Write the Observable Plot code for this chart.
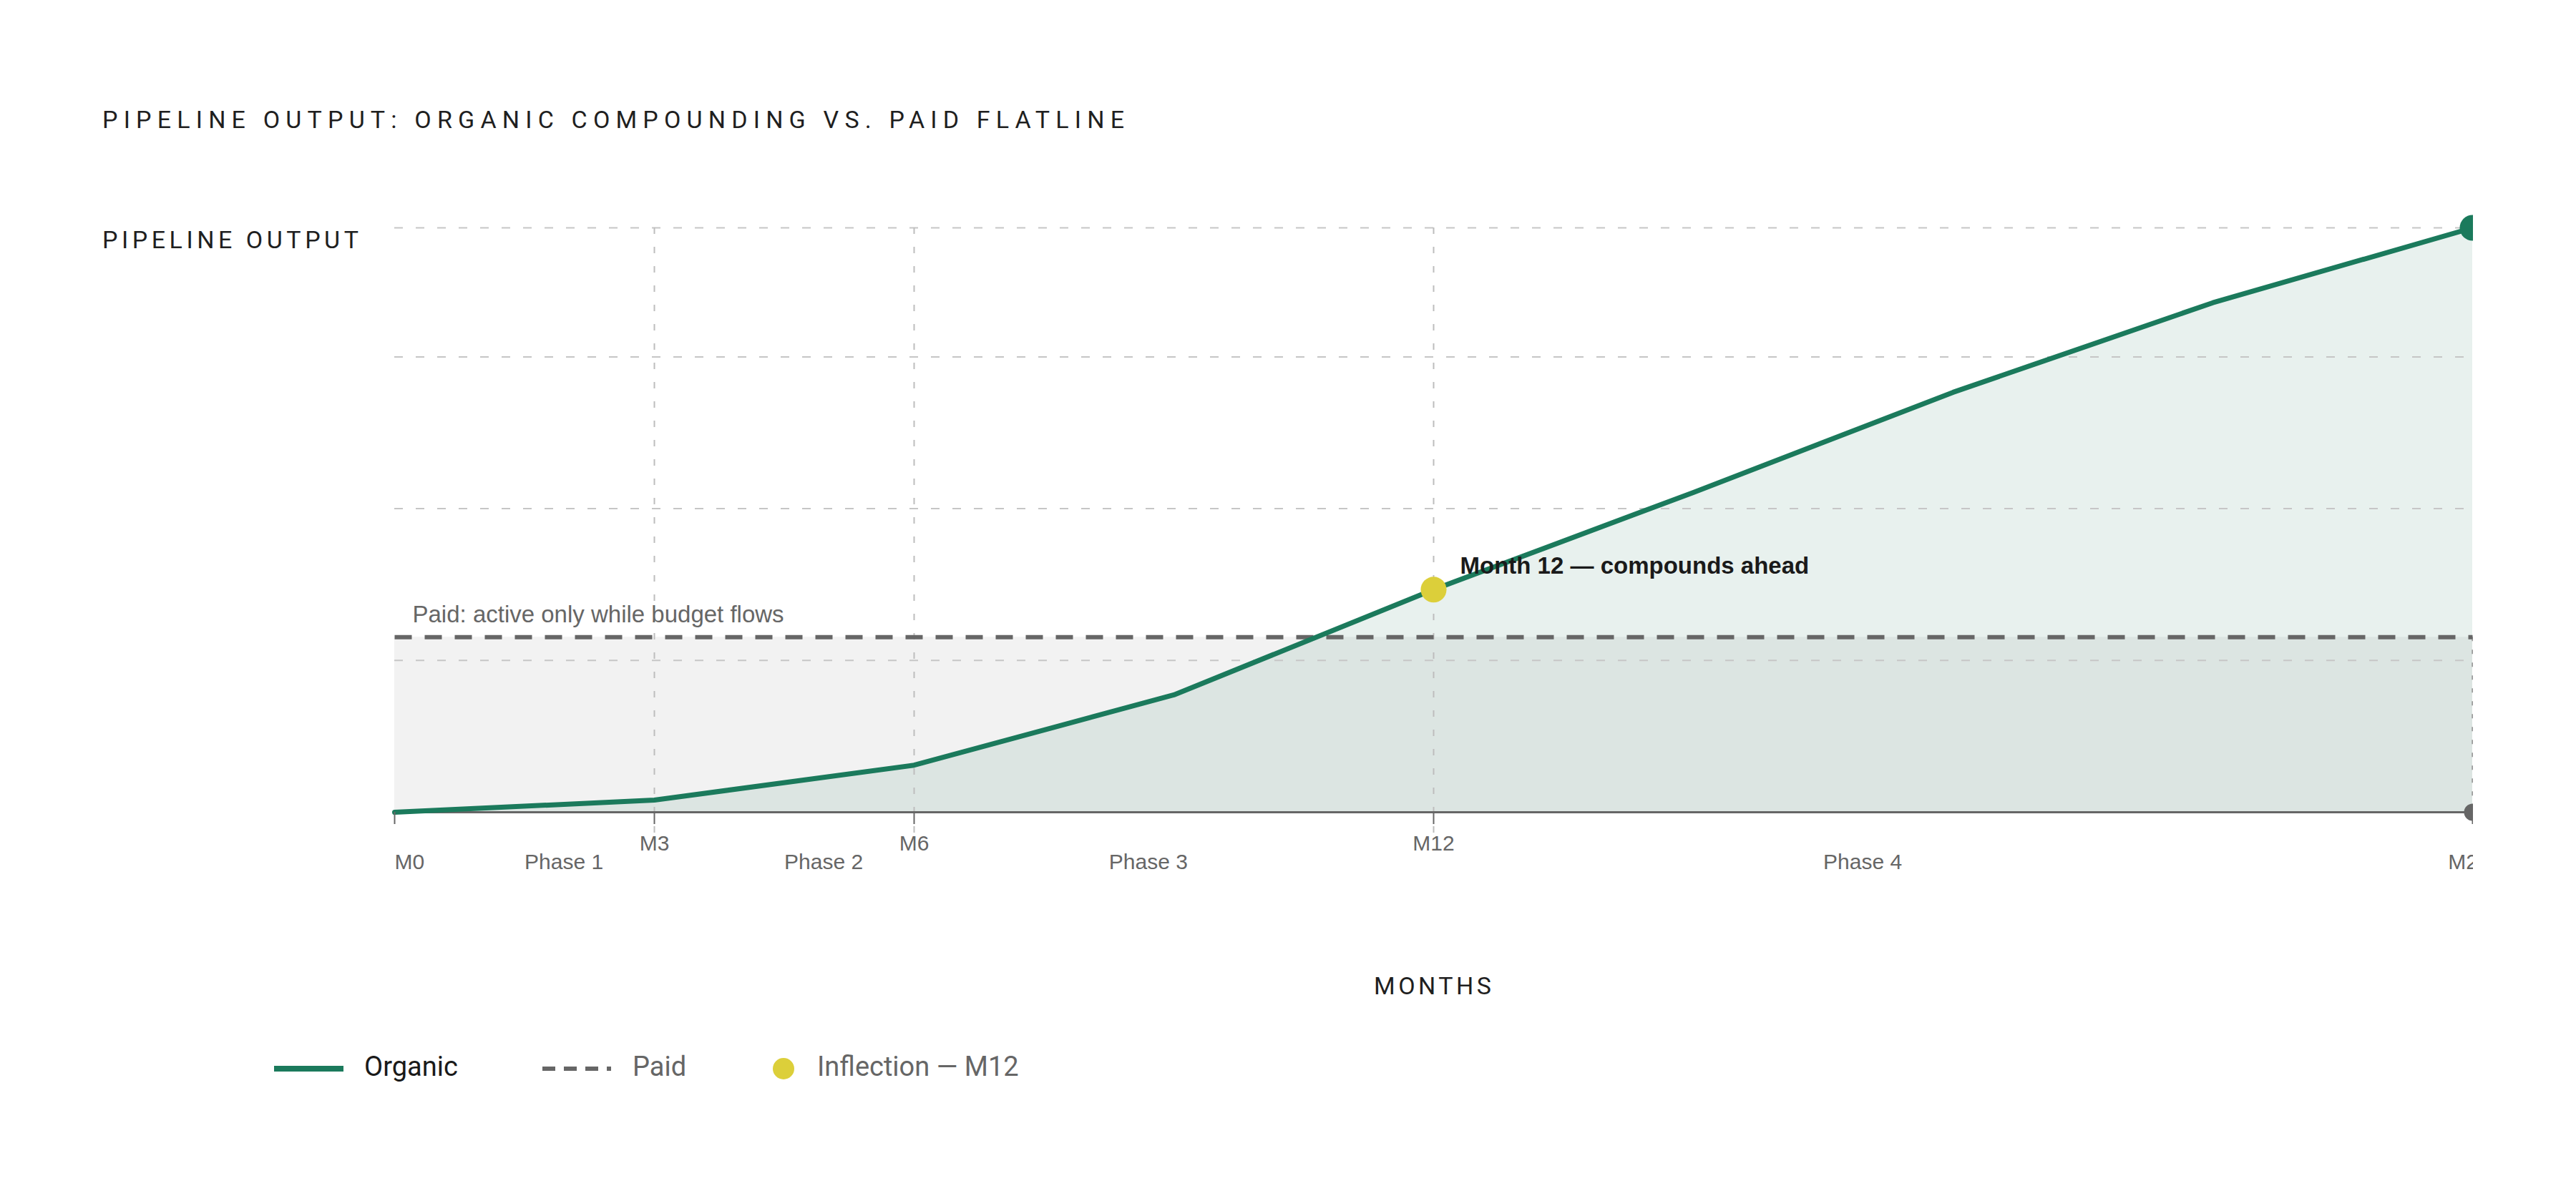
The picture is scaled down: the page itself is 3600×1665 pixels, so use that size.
<!DOCTYPE html>
<html>
<head>
<meta charset="utf-8">
<script src="https://cdn.jsdelivr.net/npm/d3@7"></script>
<script src="https://cdn.jsdelivr.net/npm/@observablehq/plot@0.6"></script>
<style>
  html, body { margin: 0; padding: 0; background: #fff; }
  #page { position: relative; width: 3600px; height: 1665px; overflow: hidden; background: #fff; }
  .lbl { position: absolute; white-space: nowrap; font-family: Roboto, "Noto Sans", sans-serif; line-height: 1; }
  #chart { position: absolute; left: 0; top: 200px; }
</style>
</head>
<body>
<div id="page">
  <div id="chart"></div>
</div>
<script>
// ---------------- data ----------------
const months       = [0, 3, 6, 9, 12, 15, 18, 21, 24];
const organic      = [0, 2.4, 9.3, 23.2, 44.0, 63.2, 83.0, 100.7, 115.5];
const paidMonths   = [0, 24];
const paid         = [34.6, 34.6];
const yGridValues  = [30, 60, 90, 115.5];
const xGridMonths  = [3, 6, 12];
const xTickMonths  = [0, 3, 6, 12, 24];
const xTickLabels  = ["", "M3", "M6", "M12", ""];
const rowLabelX    = [0, 1.5, 4.5, 8.25, 16.5];
const rowLabels    = ["M0", "Phase 1", "Phase 2", "Phase 3", "Phase 4"];
const endLabelX    = [24];
const endLabels    = ["M24"];
const inflectionMonth = 12;
const inflectionValue = 44.0;
const paidNote = "Paid: active only while budget flows";
const inflectionNote = "Month 12 \u2014 compounds ahead";
const titleText = "PIPELINE OUTPUT: ORGANIC COMPOUNDING VS. PAID FLATLINE";
const yLabelText = "PIPELINE OUTPUT";
const xLabelText = "MONTHS";
const legendLabels = ["Organic", "Paid", "Inflection \u2014 M12"];

// ---------------- colors ----------------
const GREEN = "#1b7a5c";
const GRAY = "#666666";
const YELLOW = "#dccf3a";

const orgData = months.map((m, i) => ({x: m, y: organic[i]}));
const paidData = paidMonths.map((m, i) => ({x: m, y: paid[i]}));
const tickLabelMap = new Map(xTickMonths.map((m, i) => [m, xTickLabels[i]]));
const lastIdx = months.length - 1;

const plot = Plot.plot({
  width: 3456,
  height: 1035,
  marginLeft: 551,
  marginRight: 1,
  marginTop: 118,
  marginBottom: 100,
  style: {
    background: "transparent",
    overflow: "hidden",
    fontFamily: "'Liberation Sans', Arial, sans-serif",
    fontSize: "30px"
  },
  x: {domain: [0, 24]},
  y: {domain: [0, organic[lastIdx]], axis: null},
  marks: [
    Plot.areaY(paidData, {x: "x", y: "y", fill: "#f2f2f2"}),
    Plot.areaY(orgData, {x: "x", y: "y", fill: GREEN, fillOpacity: 0.1}),
    Plot.ruleY(yGridValues, {stroke: "#c6c6c6", strokeWidth: 2, strokeDasharray: "12 18"}),
    Plot.ruleX(xGridMonths, {stroke: "#bdbdbd", strokeWidth: 2, strokeDasharray: "9 18", insetBottom: -30}),
    Plot.ruleX([paidMonths[paidMonths.length - 1]], {y1: paid[paid.length - 1], y2: 0, stroke: "#9a9a9a", strokeWidth: 2.5, strokeDasharray: "6 12"}),
    Plot.ruleY([0], {stroke: GRAY, strokeWidth: 3}),
    Plot.lineY(paidData, {x: "x", y: "y", stroke: GRAY, strokeWidth: 6, strokeDasharray: "24 18", strokeLinecap: "butt"}),
    Plot.lineY(orgData, {x: "x", y: "y", stroke: GREEN, strokeWidth: 7}),
    Plot.axisX({
      ticks: xTickMonths,
      tickSize: 17,
      tickPadding: 15,
      tickFormat: d => tickLabelMap.get(d) ?? "",
      color: GRAY,
      strokeWidth: 2,
      fontSize: 30,
      label: null
    }),
    Plot.dot([orgData[lastIdx]], {x: "x", y: "y", r: 18, fill: GREEN}),
    Plot.dot([{x: paidMonths[paidMonths.length - 1], y: 0}], {x: "x", y: "y", r: 12, fill: GRAY}),
    Plot.dot([{x: inflectionMonth, y: inflectionValue}], {x: "x", y: "y", r: 18, fill: YELLOW}),
    Plot.text([paidNote], {x: paidMonths[0], y: paid[0], text: d => d, dx: 25, dy: -21,
      textAnchor: "start", lineAnchor: "bottom", fill: GRAY, fontSize: 33}),
    Plot.text([inflectionNote], {x: inflectionMonth, y: inflectionValue, text: d => d, dx: 37, dy: -22,
      textAnchor: "start", lineAnchor: "bottom", fill: "#1a1a1a", fontSize: 33, fontWeight: "bold"}),
    Plot.text(rowLabels, {x: (d, i) => rowLabelX[i], text: d => d, frameAnchor: "bottom", dy: 79,
      lineAnchor: "bottom", textAnchor: "start", fill: GRAY, fontSize: 30}),
    Plot.text(endLabels, {x: (d, i) => endLabelX[i], text: d => d, frameAnchor: "bottom", dy: 79, dx: -5,
      lineAnchor: "bottom", textAnchor: "middle", fill: GRAY, fontSize: 30})
  ]
});
document.getElementById("chart").appendChild(plot);

// ---------------- HTML text: title, axis labels, legend ----------------
const page = document.getElementById("page");
function addLabel(text, opts) {
  const el = document.createElement("div");
  el.className = "lbl";
  el.textContent = text;
  el.style.fontSize = opts.size + "px";
  el.style.color = opts.color;
  el.style.top = (opts.baseline - 0.842 * opts.size) + "px";
  page.appendChild(el);
  if (opts.fitWidth) {
    el.style.letterSpacing = "0px";
    const w0 = el.getBoundingClientRect().width;
    const ls = (opts.fitWidth - w0) / (text.length - 1);
    el.style.letterSpacing = ls + "px";
    el.dataset.ls = ls;
  }
  const w = el.getBoundingClientRect().width - (parseFloat(el.dataset.ls || 0));
  if (opts.center != null) el.style.left = (opts.center - w / 2) + "px";
  else el.style.left = opts.left + "px";
  return el;
}
addLabel(titleText, {size: 34, color: "#1f1f1f", baseline: 179, left: 143, fitWidth: 1428});
addLabel(yLabelText, {size: 34, color: "#1f1f1f", baseline: 347, left: 143, fitWidth: 358});
addLabel(xLabelText, {size: 34, color: "#1f1f1f", baseline: 1390, center: 2002, fitWidth: 164});

// legend
function addBox(css) {
  const d = document.createElement("div");
  d.style.position = "absolute";
  Object.assign(d.style, css);
  page.appendChild(d);
  return d;
}
addBox({left: "383px", top: "1490px", width: "97px", height: "8px", background: GREEN});
const dash = document.createElementNS("http://www.w3.org/2000/svg", "svg");
dash.setAttribute("width", "96"); dash.setAttribute("height", "10");
dash.style.position = "absolute"; dash.style.left = "758px"; dash.style.top = "1489px";
dash.innerHTML = `<line x1="0" y1="5" x2="96" y2="5" stroke="${GRAY}" stroke-width="6" stroke-dasharray="18 12"/>`;
page.appendChild(dash);
addBox({left: "1080px", top: "1479px", width: "30px", height: "30px", borderRadius: "50%", background: YELLOW});
addLabel(legendLabels[0], {size: 38, color: "#1a1a1a", baseline: 1504, left: 509});
addLabel(legendLabels[1], {size: 38, color: GRAY, baseline: 1504, left: 884});
addLabel(legendLabels[2], {size: 38, color: GRAY, baseline: 1504, left: 1142});
</script>
</body>
</html>
